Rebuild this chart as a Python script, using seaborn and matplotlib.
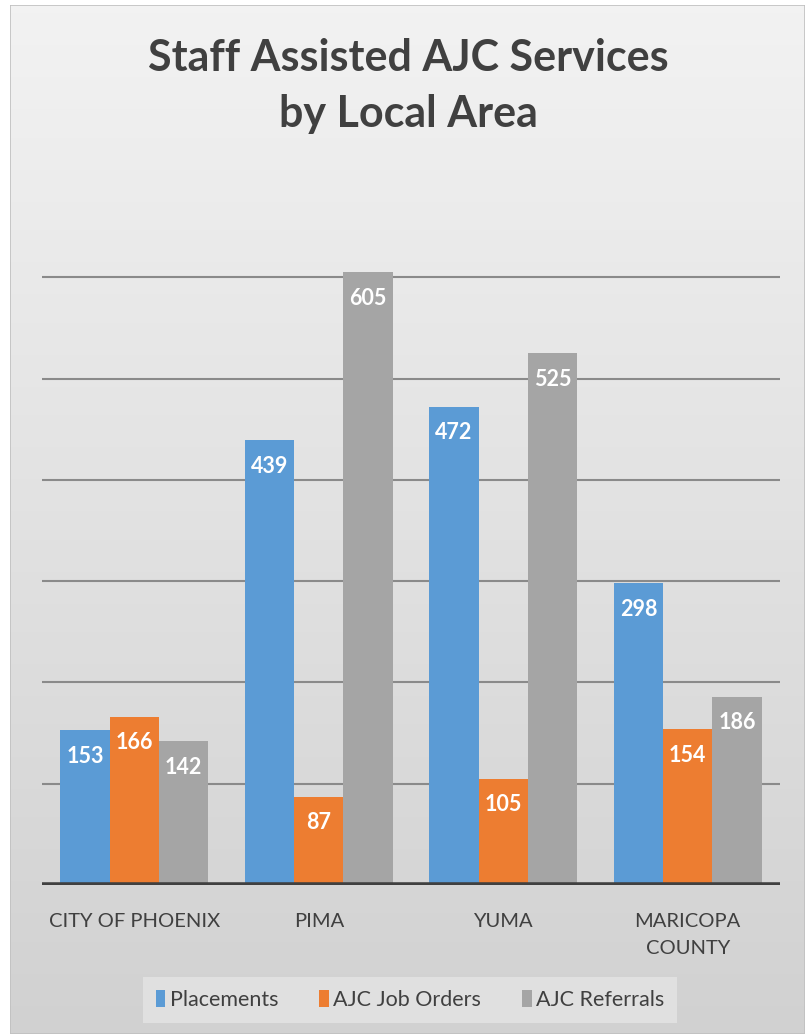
import numpy as np
import pandas as pd
import matplotlib
matplotlib.use("Agg")
import matplotlib.pyplot as plt
import seaborn as sns
from matplotlib.patches import Rectangle

areas = ["CITY OF PHOENIX", "PIMA", "YUMA", "MARICOPA\nCOUNTY"]
series = ["Placements", "AJC Job Orders", "AJC Referrals"]
placements = [153, 439, 472, 298]
job_orders = [166, 87, 105, 154]
referrals = [142, 605, 525, 186]
colors = ["#5b9bd5", "#ed7d31", "#a5a5a5"]

rows = []
for s, vals in zip(series, [placements, job_orders, referrals]):
    for a, v in zip(areas, vals):
        rows.append({"Area": a, "Series": s, "Value": v})
df = pd.DataFrame(rows)

sns.set_theme(style="white")
plt.rcParams["font.family"] = ["Lato", "DejaVu Sans"]

W, H = 809, 1034
fig = plt.figure(figsize=(W / 100, H / 100), dpi=100)
fig.patch.set_facecolor("white")

# background gradient panel
bg = fig.add_axes([10 / W, 0, 795 / W, 1 - 5 / H], zorder=-5)
grad = np.linspace(0, 1, 256).reshape(-1, 1)
top = np.array([0.95, 0.95, 0.95])
bot = np.array([0.82, 0.82, 0.82])
img = top * (1 - grad[..., None]) + bot * grad[..., None]
img = np.repeat(img, 2, axis=1)
bg.imshow(img, aspect="auto", extent=[0, 1, 0, 1], origin="upper")
bg.set_xlim(0, 1); bg.set_ylim(0, 1)
bg.axis("off")
bg.add_patch(Rectangle((0, 0), 1, 1, fill=False, edgecolor="#c0c0c0", lw=1.2, transform=bg.transAxes))

ax = fig.add_axes([42 / W, (H - 885) / H, (780 - 42) / W, (885 - 176) / H])
ax.set_facecolor("none")
sns.barplot(data=df, x="Area", y="Value", hue="Series", palette=colors,
            order=areas, hue_order=series, ax=ax, width=0.8, saturation=1,
            edgecolor="none", legend=True)
ax.set_ylim(0, 700)
ax.set_xlim(-0.5, 3.5)
for v in range(100, 700, 100):
    ax.axhline(v, color="#8a8a8a", lw=1.5, zorder=0)
ax.axhline(0, color="#404040", lw=4, zorder=5)
for sp in ax.spines.values():
    sp.set_visible(False)
ax.set_yticks([])
ax.set_xlabel(""); ax.set_ylabel("")
ax.tick_params(axis="x", length=0, pad=20, labelsize=14.5, labelcolor="#404040")
for lbl in ax.get_xticklabels():
    lbl.set_linespacing(1.75)
    lbl.set_verticalalignment("top")

for cont in ax.containers:
    for p in cont:
        h = p.get_height()
        ax.annotate(f"{int(round(h))}", (p.get_x() + p.get_width() / 2, h),
                    xytext=(0, -26), textcoords="offset pixels",
                    ha="center", va="center", color="white",
                    fontsize=15.5, fontweight="bold", zorder=6)

handles, labels = ax.get_legend_handles_labels()
ax.legend_.remove()
leg = fig.legend(handles, labels, loc="center", bbox_to_anchor=(410 / W, 1 - 1000 / H),
                 ncol=3, frameon=True, fontsize=15.5, handlelength=0.45, handleheight=0.8,
                 handletextpad=0.2, columnspacing=1.9, borderpad=0.6, borderaxespad=0,
                 fancybox=False)
leg.get_frame().set_facecolor("#e4e4e4")
leg.get_frame().set_edgecolor("none")
for t in leg.get_texts():
    t.set_color("#404040")

fig.text(408 / W, 1 - 86 / H, "Staff Assisted AJC Services\nby Local Area",
         ha="center", va="center", fontsize=31, fontweight="bold",
         color="#404040", linespacing=1.5)

fig.savefig("out.png", dpi=100)
